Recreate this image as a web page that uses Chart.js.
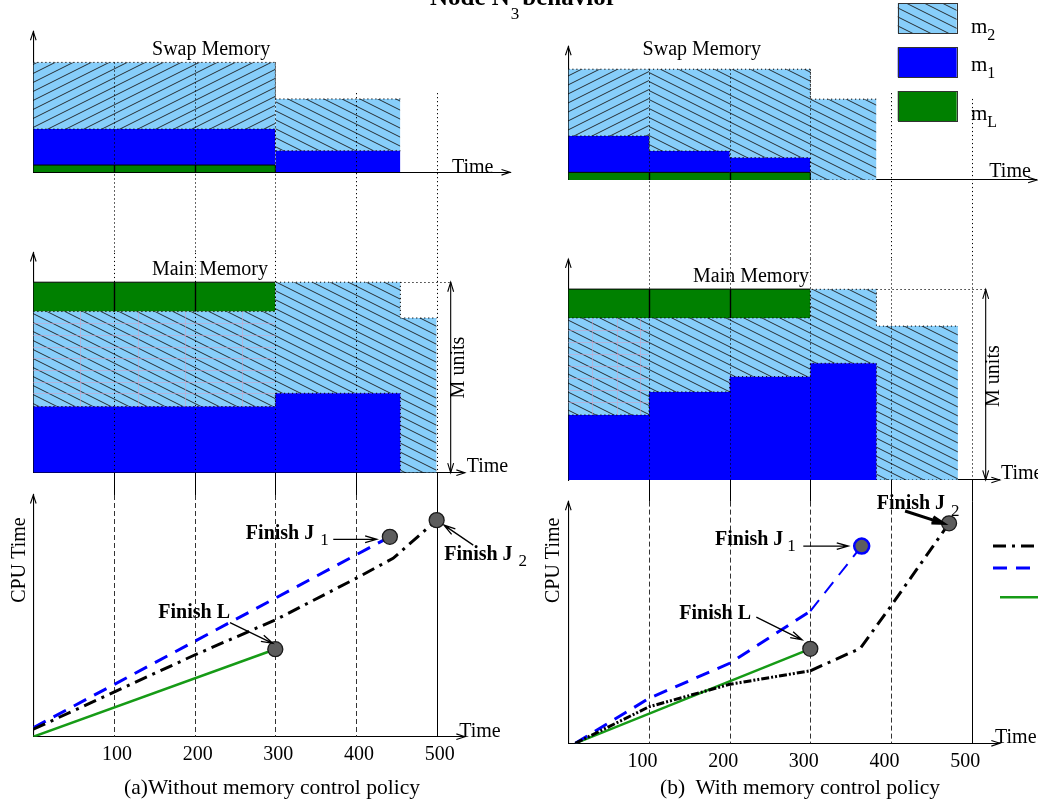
<!DOCTYPE html>
<html>
<head>
<meta charset="utf-8">
<script src="https://cdn.jsdelivr.net/npm/chart.js@4.4.1/dist/chart.umd.min.js"></script>
<style>
  html, body { margin: 0; padding: 0; background: #fff; }
  #stage { position: relative; width: 1038px; height: 805px; overflow: hidden;
           font-family: "Liberation Serif", "Times New Roman", serif; color: #000; }
  #stage canvas { position: absolute; left: 0; top: 0; }
  .title { position: absolute; left: 430px; top: -16px; font-size: 25px; line-height: 25px;
           font-weight: bold; white-space: nowrap; }
  .title .sub { position: relative; top: 14px; font-size: 17px; font-weight: normal; margin: 0 3px 0 1px; }
  .cap { position: absolute; top: 777px; font-size: 21.5px; line-height: 21.5px; white-space: pre;
         transform: translateX(-50%); }
</style>
</head>
<body>
<div id="stage">
  <canvas id="swapA" width="1038" height="805"></canvas>
  <canvas id="mainA" width="1038" height="805"></canvas>
  <canvas id="cpuA" width="1038" height="805"></canvas>
  <canvas id="swapB" width="1038" height="805"></canvas>
  <canvas id="mainB" width="1038" height="805"></canvas>
  <canvas id="cpuB" width="1038" height="805"></canvas>
  <div class="title">Node N<span class="sub">3</span>behavior</div>
  <div class="cap" style="left:272px">(a)Without memory control policy</div>
  <div class="cap" style="left:800px">(b)  With memory control policy</div>
</div>
<script>
// ---- memory occupancy (units: M/100), step values starting at each time ----
const swapTimesA = [0, 300, 455];
const swapML_A = [3.8, 0, 0];
const swapM1_A = [18.9, 11.3, 11.3];
const swapM2_A = [35.0, 27.2, 27.2];

const mainTimesA = [0, 300, 455, 500];
const mainM1_A = [34.7, 41.7, 0, 0];
const mainM2_A = [49.9, 58.3, 81.2, 81.2];
const mainML_A = [15.4, 0, 0, 0];

const swapTimesB = [0, 100, 200, 300, 382];
const swapML_B = [4.0, 4.0, 4.0, 0, 0];
const swapM1_B = [19.1, 11.2, 7.7, 0, 0];
const swapM2_B = [35.0, 42.9, 46.4, 42.4, 42.4];

const mainTimesB = [0, 100, 200, 300, 382, 483];
const mainM1_B = [34.1, 46.2, 54.2, 61.2, 0, 0];
const mainM2_B = [50.9, 38.8, 30.8, 38.8, 80.7, 80.7];
const mainML_B = [15.1, 15.1, 15.1, 0, 0, 0];

// ---- accumulated CPU time, [time, cpu] ----
const cpuJ2_A = [[0, 3.1], [200, 33.8], [300, 48.3], [400, 65.5], [446, 73.8], [500, 89.6]];
const cpuJ1_A = [[0, 3.7], [442, 82.7]];
const cpuL_A = [[0, 0], [300, 36.2]];

const cpuJ2_B = [[8.7, 0], [100, 15.1], [200, 24.4], [300, 30.0], [362, 39.3], [400, 56.8], [472, 91.0]];
const cpuJ1_B = [[8.7, 0], [100, 18.6], [200, 33.1], [300, 54.7], [363.7, 81.6]];
const cpuL_B = [[8.7, 0], [300, 39.1]];

const timeTicks = [100, 200, 300, 400, 500];

// ---- layout ----
const W = 1038, H = 805;
const PX_PER_T = 0.8067;
const X_AXIS_BAND = 40;
const SERIF = '"Liberation Serif", "Times New Roman", serif';
const DOT = [1.2, 2.8];

const colors = {
  m2: '#87cefa', m1: '#0000ff', mL: '#008000', ink: '#1c1c1c', mesh: 'rgba(210,160,195,0.55)',
  J2: '#000000', J1: '#0000ff', L: '#169b16', marker: '#5d5d5d',
};

const frames = {
  swapA: { left: 33.3, top: 31.7, axis: 172.3, unit: 1.905, tMax: 591 },
  mainA: { left: 33.3, top: 253, axis: 472.7, unit: 1.905, tMax: 535 },
  cpuA:  { left: 33.3, top: 495, axis: 736.7, unit: 2.417, tMax: 535 },
  swapB: { left: 568.3, top: 46.7, axis: 180, unit: 1.907, tMax: 580.6 },
  mainB: { left: 568.3, top: 259.3, axis: 480, unit: 1.907, tMax: 535 },
  cpuB:  { left: 568.3, top: 501.7, axis: 743.3, unit: 2.417, tMax: 535 },
};

const hatch = (dir) => {
  const c = document.createElement('canvas');
  c.width = 18; c.height = 9;
  const g = c.getContext('2d');
  g.fillStyle = colors.m2;
  g.fillRect(0, 0, 18, 9);
  g.strokeStyle = colors.ink;
  g.lineWidth = 0.9;
  for (const k of [-9, 0, 9]) {
    g.beginPath();
    if (dir === 'back') { g.moveTo(0, k); g.lineTo(18, k + 9); }
    else { g.moveTo(0, k + 9); g.lineTo(18, k); }
    g.stroke();
  }
  return g.createPattern(c, 'repeat');
};
const backPat = hatch('back');
const slashPat = hatch('slash');

// ---- drawing helpers ----
const openArrow = (ctx, x0, y0, x1, y1, len = 11, spread = 0.3) => {
  const a = Math.atan2(y1 - y0, x1 - x0);
  ctx.beginPath();
  ctx.moveTo(x0, y0);
  ctx.lineTo(x1, y1);
  ctx.moveTo(x1 - len * Math.cos(a - spread), y1 - len * Math.sin(a - spread));
  ctx.lineTo(x1, y1);
  ctx.lineTo(x1 - len * Math.cos(a + spread), y1 - len * Math.sin(a + spread));
  ctx.stroke();
};

const head = (ctx, x, y, ang, len = 9, spread = 0.32) => {
  ctx.beginPath();
  ctx.moveTo(x - len * Math.cos(ang - spread), y - len * Math.sin(ang - spread));
  ctx.lineTo(x, y);
  ctx.lineTo(x - len * Math.cos(ang + spread), y - len * Math.sin(ang + spread));
  ctx.stroke();
};

const drawGuides = (chart, guides) => {
  const { ctx, scales: { x, y } } = chart;
  guides.forEach((g) => {
    ctx.save();
    ctx.strokeStyle = g.color || '#000';
    ctx.lineWidth = g.width || 1;
    ctx.setLineDash(g.dash || []);
    g.at.forEach((t) => {
      const px = Math.round(x.getPixelForValue(t)) + 0.5;
      ctx.beginPath();
      ctx.moveTo(px, y.getPixelForValue(g.from));
      ctx.lineTo(px, y.getPixelForValue(g.to));
      ctx.stroke();
    });
    ctx.restore();
  });
};

// faint drafting mesh left over inside part of the m2 region
const drawMesh = (chart, m) => {
  const { ctx, scales: { x, y } } = chart;
  const x0 = x.getPixelForValue(m.t0), x1 = x.getPixelForValue(m.t1);
  const yTop = y.getPixelForValue(m.v1), yBot = y.getPixelForValue(m.v0);
  ctx.save();
  ctx.strokeStyle = colors.mesh;
  ctx.lineWidth = 1;
  ctx.beginPath();
  for (let py = yTop + m.step; py < yBot - 2; py += m.step) {
    ctx.moveTo(x0, Math.round(py) + 0.5);
    ctx.lineTo(x1, Math.round(py) + 0.5);
  }
  m.cols.forEach((t) => {
    const px = Math.round(x.getPixelForValue(t)) + 0.5;
    ctx.moveTo(px, yTop);
    ctx.lineTo(px, yBot);
  });
  ctx.stroke();
  ctx.restore();
};

const drawTexts = (chart, list) => {
  const { ctx, scales: { x, y } } = chart;
  list.forEach((tx) => {
    ctx.save();
    ctx.font = tx.font || `20px ${SERIF}`;
    ctx.fillStyle = '#000';
    ctx.textAlign = tx.align || 'left';
    ctx.textBaseline = tx.baseline || 'alphabetic';
    ctx.translate(x.getPixelForValue(tx.t), y.getPixelForValue(tx.v));
    if (tx.rotate) ctx.rotate(tx.rotate);
    ctx.fillText(tx.text, 0, 0);
    ctx.restore();
  });
};

const drawAxisHeads = (chart) => {
  const { ctx, chartArea: a } = chart;
  ctx.save();
  ctx.strokeStyle = '#000';
  ctx.lineWidth = 1.1;
  head(ctx, a.right, a.bottom, 0);
  head(ctx, a.left, a.top, -Math.PI / 2);
  ctx.restore();
};

const drawSpan = (chart, m) => {
  // double arrow marking the full main-memory size M, plus the dotted M level
  const { ctx, scales: { x, y } } = chart;
  const px = x.getPixelForValue(m.t);
  const top = y.getPixelForValue(100), bot = y.getPixelForValue(0);
  ctx.save();
  ctx.strokeStyle = '#000';
  ctx.lineWidth = 1.1;
  ctx.beginPath();
  ctx.moveTo(px, top);
  ctx.lineTo(px, bot);
  ctx.stroke();
  head(ctx, px, top, -Math.PI / 2, 10, 0.3);
  head(ctx, px, bot, Math.PI / 2, 10, 0.3);
  ctx.setLineDash(DOT);
  ctx.beginPath();
  ctx.moveTo(x.getPixelForValue(m.from), Math.round(top) + 0.5);
  ctx.lineTo(px, Math.round(top) + 0.5);
  ctx.stroke();
  ctx.restore();
};

const drawNotes = (chart, notes) => {
  const { ctx } = chart;
  notes.forEach((n) => {
    const pts = chart.getDatasetMeta(n.ds).data;
    const p = pts[pts.length - 1];
    ctx.save();
    ctx.fillStyle = '#000';
    ctx.textBaseline = 'alphabetic';
    ctx.font = `bold 20px ${SERIF}`;
    const tx = p.x + n.text[0], ty = p.y + n.text[1];
    ctx.fillText(n.label, tx, ty);
    if (n.sub) {
      const w = ctx.measureText(n.label).width;
      ctx.font = `17px ${SERIF}`;
      ctx.fillText(n.sub, tx + w + n.subGap, ty + n.subDy);
    }
    ctx.strokeStyle = '#000';
    ctx.lineWidth = n.width || 1.3;
    openArrow(ctx, p.x + n.from[0], p.y + n.from[1], p.x + n.to[0], p.y + n.to[1], 12, 0.28);
    ctx.restore();
  });
};

const drawBoxLegend = (chart, lg) => {
  const { ctx } = chart;
  const sets = chart.data.datasets;
  lg.order.forEach((idx, i) => {
    const ds = sets[idx];
    const y0 = lg.y[i];
    ctx.save();
    ctx.fillStyle = ds.backgroundColor;
    ctx.fillRect(lg.x, y0, lg.w, lg.h);
    ctx.strokeStyle = '#333';
    ctx.lineWidth = 1;
    ctx.strokeRect(Math.round(lg.x) + 0.5, Math.round(y0) + 0.5, lg.w, lg.h);
    const [base, sub] = ds.label.split('_');
    ctx.fillStyle = '#000';
    ctx.font = `21px ${SERIF}`;
    ctx.fillText(base, lg.textX, lg.base[i]);
    const w = ctx.measureText(base).width;
    ctx.font = `16px ${SERIF}`;
    ctx.fillText(sub, lg.textX + w, lg.base[i] + 7);
    ctx.restore();
  });
};

const drawLineLegend = (chart, items) => {
  const { ctx } = chart;
  items.forEach((it) => {
    const ds = chart.data.datasets[it.ds];
    ctx.save();
    ctx.strokeStyle = ds.borderColor;
    ctx.lineWidth = ds.borderWidth;
    ctx.setLineDash(ds.borderDash || []);
    ctx.beginPath();
    ctx.moveTo(it.x0, it.y);
    ctx.lineTo(W + 4, it.y);
    ctx.stroke();
    ctx.restore();
  });
};

const decor = {
  id: 'decor',
  beforeDatasetsDraw(chart, args, o) {
    if (!o.guidesOnTop) drawGuides(chart, o.guides || []);
  },
  afterDatasetsDraw(chart, args, o) {
    if (o.mesh) drawMesh(chart, o.mesh);
    if (o.guidesOnTop) drawGuides(chart, o.guides || []);
  },
  afterDraw(chart, args, o) {
    drawAxisHeads(chart);
    drawTexts(chart, o.texts || []);
    if (o.span) drawSpan(chart, o.span);
    if (o.notes) drawNotes(chart, o.notes);
    if (o.boxLegend) drawBoxLegend(chart, o.boxLegend);
    if (o.lineLegend) drawLineLegend(chart, o.lineLegend);
  },
};
Chart.register(decor);
Chart.defaults.font.family = SERIF;

const baseOptions = (f, yMax, stacked, tickOpts, decorOpts) => ({
  responsive: false,
  animation: false,
  events: [],
  layout: {
    padding: {
      left: f.left, top: f.top,
      bottom: H - f.axis - X_AXIS_BAND,
      right: W - f.left - f.tMax * PX_PER_T,
    },
  },
  scales: {
    x: {
      type: 'linear', min: 0, max: f.tMax, z: 1,
      grid: { display: false, drawTicks: false },
      border: { display: true, color: '#000', width: 1.1 },
      ticks: tickOpts || { display: false },
      afterFit: (s) => { s.height = X_AXIS_BAND; },
    },
    y: {
      type: 'linear', min: 0, max: yMax, stacked, z: 1,
      grid: { display: false, drawTicks: false },
      border: { display: true, color: '#000', width: 1.1 },
      ticks: { display: false },
      afterFit: (s) => { s.width = 0; },
    },
  },
  plugins: { legend: { display: false }, tooltip: { enabled: false }, decor: decorOpts },
});

const memoryChart = (id, times, layers, slashUntil, decorOpts) => {
  const f = frames[id];
  const datasets = layers.map(([key, values], i) => {
    const ds = {
      label: key.replace('m', 'm_'),
      data: times.map((t, k) => ({ x: t, y: values[k] })),
      stepped: 'before',
      pointRadius: 0,
      fill: i === 0 ? 'origin' : '-1',
      backgroundColor: key === 'm2' ? backPat : colors[key],
      borderColor: '#000',
      borderWidth: 1,
      borderDash: key === 'mL' ? [] : DOT,
    };
    if (key === 'm2') {
      ds.segment = { backgroundColor: (c) => (times[c.p0DataIndex] < slashUntil ? slashPat : backPat) };
    }
    if (key === 'mL') {
      ds.segment = { borderColor: (c) => (values[c.p0DataIndex] > 0 ? '#000' : 'rgba(0,0,0,0)') };
    }
    return ds;
  });
  return new Chart(document.getElementById(id), {
    type: 'line',
    data: { datasets },
    options: baseOptions(f, (f.axis - f.top) / f.unit, true, null, decorOpts),
  });
};

const cpuStyles = {
  J2: { borderColor: colors.J2, borderWidth: 3, borderDash: [13, 6, 3, 6] },
  J1: { borderColor: colors.J1, borderWidth: 3, borderDash: [14, 9] },
  L: { borderColor: colors.L, borderWidth: 2.5, borderDash: [] },
};

const cpuChart = (id, series, labelShift, decorOpts, extra = {}) => {
  const f = frames[id];
  const datasets = series.map(([key, pts]) => ({
    label: key,
    data: pts.map(([t, v]) => ({ x: t, y: v })),
    ...cpuStyles[key],
    fill: false,
    tension: 0,
    pointRadius: (c) => (c.dataIndex === pts.length - 1 ? 7.5 : 0),
    pointBackgroundColor: colors.marker,
    pointBorderColor: key === 'J1' && extra.blueRing ? colors.J1 : '#1a1a1a',
    pointBorderWidth: key === 'J1' && extra.blueRing ? 2.5 : 1.3,
    segment: extra.segment ? extra.segment(key, pts) : undefined,
  }));
  const ticks = {
    display: true, stepSize: 100, autoSkip: false, includeBounds: false, maxRotation: 0,
    color: '#000', font: { size: 20, family: SERIF }, padding: 6, labelOffset: labelShift,
    callback: (v) => (timeTicks.includes(v) ? String(v) : ''),
  };
  return new Chart(document.getElementById(id), {
    type: 'line',
    data: { datasets },
    options: baseOptions(f, (f.axis - f.top) / f.unit, false, ticks, decorOpts),
  });
};

// ---- panel (a): without memory control ----
memoryChart('swapA', swapTimesA, [['mL', swapML_A], ['m1', swapM1_A], ['m2', swapM2_A]], 300, {
  guidesOnTop: true,
  guides: [
    { at: [100, 200, 300], from: 57.7, to: -42.4, dash: DOT },
    { at: [400, 500], from: 41.6, to: -42.4, dash: DOT },
    { at: [100, 200], from: 0, to: 3.8, width: 1.4 },
  ],
  texts: [
    { text: 'Swap Memory', t: 220.5, v: 61.6, align: 'center' },
    { text: 'Time', t: 519, v: -0.4 },
  ],
});

memoryChart('mainA', mainTimesA, [['m1', mainM1_A], ['m2', mainM2_A], ['mL', mainML_A]], 0, {
  guidesOnTop: true,
  mesh: { t0: 0, t1: 300, v0: 34.7, v1: 84.6, step: 11.7, cols: [58, 130, 188, 259] },
  guides: [
    { at: timeTicks, from: 115.4, to: 0, dash: DOT },
    { at: timeTicks, from: 0, to: -11.7 },
    { at: [100, 200], from: 84.6, to: 100, width: 1.4 },
  ],
  span: { t: 517.4, from: 455 },
  texts: [
    { text: 'Main Memory', t: 219, v: 103.8, align: 'center' },
    { text: 'Time', t: 537.3, v: 0.5 },
    { text: 'M units', t: 527.7, v: 55.2, align: 'center', baseline: 'middle', rotate: -Math.PI / 2 },
  ],
});

cpuChart('cpuA', [['J2', cpuJ2_A], ['J1', cpuJ1_A], ['L', cpuL_A]], 3, {
  guides: [
    { at: [100, 200, 300, 400], from: 100, to: 0, dash: [5, 3], color: '#333' },
    { at: [500], from: 100, to: 0 },
  ],
  texts: [
    { text: 'Time', t: 528, v: 0 },
    { text: 'CPU Time', t: -16.5, v: 73.1, align: 'center', baseline: 'middle', rotate: -Math.PI / 2 },
  ],
  notes: [
    { ds: 1, label: 'Finish J', sub: '1', subGap: 6, subDy: 6, text: [-144, 2.5], from: [-56.6, 2.5], to: [-13.2, 2.5] },
    { ds: 0, label: 'Finish J', sub: '2', subGap: 6, subDy: 6, text: [7.6, 40], from: [36.6, 25], to: [7.3, 5] },
    { ds: 2, label: 'Finish L', text: [-117, -31], from: [-45.3, -26.5], to: [-2.6, -5.9] },
  ],
});

// ---- panel (b): with memory control ----
memoryChart('swapB', swapTimesB, [['mL', swapML_B], ['m1', swapM1_B], ['m2', swapM2_B]], 100, {
  guidesOnTop: true,
  guides: [
    { at: [100, 200, 300], from: 58, to: -41.6, dash: DOT },
    { at: [400], from: 45.6, to: -41.6, dash: DOT },
    { at: [500], from: 42.5, to: -41.6, dash: DOT },
    { at: [100, 200], from: 0, to: 4, width: 1.4 },
  ],
  texts: [
    { text: 'Swap Memory', t: 165.4, v: 65.5, align: 'center' },
    { text: 'Time', t: 521.9, v: 1.4 },
  ],
  boxLegend: { order: [2, 1, 0], x: 897.7, y: [3.3, 47.3, 91], w: 59, h: 30, textX: 971, base: [33, 71, 120] },
});

memoryChart('mainB', mainTimesB, [['m1', mainM1_B], ['m2', mainM2_B], ['mL', mainML_B]], 0, {
  guidesOnTop: true,
  mesh: { t0: 0, t1: 100, v0: 34.1, v1: 84.9, step: 12, cols: [29, 60, 89] },
  guides: [
    { at: timeTicks, from: 115.7, to: 0, dash: DOT },
    { at: timeTicks, from: 0, to: -11.4 },
    { at: [100, 200], from: 84.9, to: 100, width: 1.4 },
  ],
  span: { t: 517.4, from: 382 },
  texts: [
    { text: 'Main Memory', t: 226.5, v: 104, align: 'center' },
    { text: 'Time', t: 536.3, v: 0.4 },
    { text: 'M units', t: 527.7, v: 54.5, align: 'center', baseline: 'middle', rotate: -Math.PI / 2 },
  ],
});

cpuChart('cpuB', [['J2', cpuJ2_B], ['J1', cpuJ1_B], ['L', cpuL_B]], -6.5, {
  guides: [
    { at: [100, 200, 300, 400], from: 100, to: 0, dash: [5, 3], color: '#333' },
    { at: [500], from: 100, to: 0 },
  ],
  texts: [
    { text: 'Time', t: 529, v: 0 },
    { text: 'CPU Time', t: -17.7, v: 75.7, align: 'center', baseline: 'middle', rotate: -Math.PI / 2 },
  ],
  notes: [
    { ds: 1, label: 'Finish J', sub: '1', subGap: 4, subDy: 6, text: [-146.7, -1], from: [-58.4, 0], to: [-13.4, 0] },
    { ds: 0, label: 'Finish J', sub: '2', subGap: 6, subDy: 7, text: [-72.3, -14], from: [-44, -12.3], to: [-5.7, 0], width: 3 },
    { ds: 2, label: 'Finish L', text: [-131, -30], from: [-54, -31.6], to: [-8.3, -9] },
  ],
  lineLegend: [
    { ds: 0, x0: 993, y: 546 },
    { ds: 1, x0: 993, y: 568 },
    { ds: 2, x0: 1000, y: 597.3 },
  ],
}, {
  blueRing: true,
  // job J2 runs in a finer pattern while memory is throttled, J1 speeds up after L ends
  segment: (key, pts) => {
    if (key === 'J2') return { borderDash: (c) => (pts[c.p0DataIndex][0] < 300 ? [8, 2, 2, 2, 2, 2] : undefined) };
    if (key === 'J1') return { borderWidth: (c) => (pts[c.p0DataIndex][0] >= 300 ? 2 : undefined) };
    return undefined;
  },
});
</script>
</body>
</html>
